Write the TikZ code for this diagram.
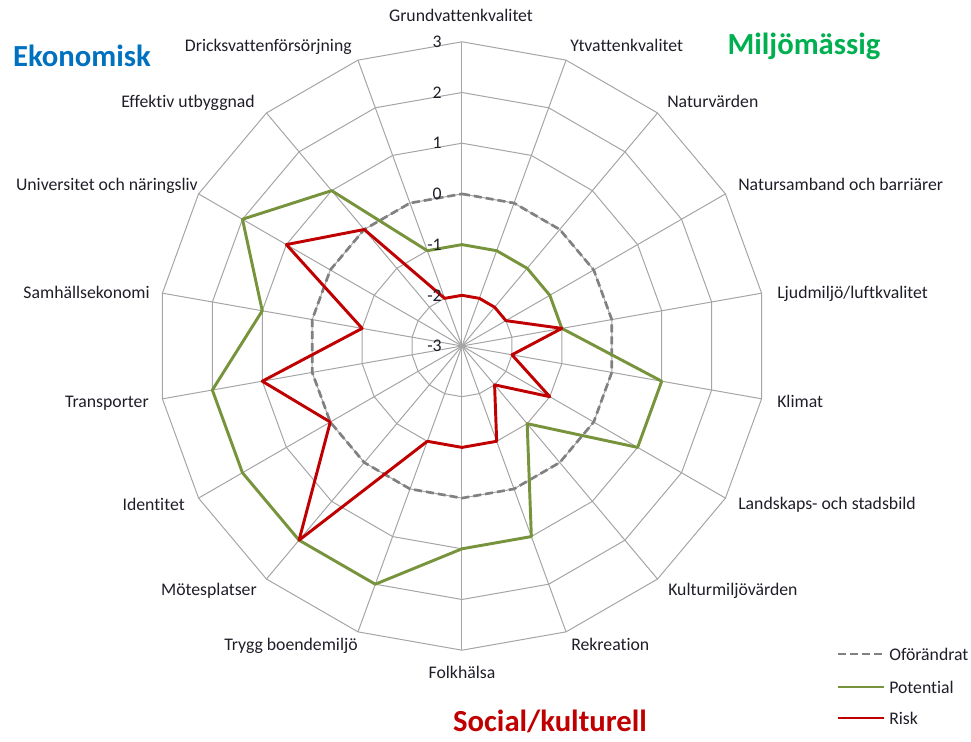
\documentclass[tikz,border=0pt]{standalone}
\usepackage{fontspec}
\setmainfont{Carlito}[Ligatures=NoCommon]
\usepackage{tikz}
\usetikzlibrary{positioning}

\definecolor{gridgray}{RGB}{165,165,165}
\definecolor{basegray}{RGB}{128,128,128}
\definecolor{potgreen}{RGB}{119,147,60}
\definecolor{riskred}{RGB}{192,0,0}
\definecolor{ekoblue}{RGB}{0,112,192}
\definecolor{miljogreen}{RGB}{0,176,80}
\definecolor{socred}{RGB}{192,0,0}
\definecolor{labelblack}{RGB}{30,30,40}

\tikzset{
	axislabel/.style={font=\fontsize{13.3}{15}\selectfont, text=labelblack, inner sep=0pt},
	ringlabel/.style={axislabel, anchor=east},
	heading/.style={font=\fontsize{23}{27}\selectfont\bfseries, inner sep=0pt, anchor=base},
	gridline/.style={draw=gridgray, line width=0.75pt},
	series/.style={line width=2.2pt, line join=round},
	basedash/.style={series, draw=basegray, line width=2pt, dash pattern=on 6pt off 3pt}
}

\begin{document}
\begin{tikzpicture}[x=0.75pt, y=0.75pt]
		\useasboundingbox (-462,-396) rectangle (509,346);
		
		% grid rings and spokes
		\foreach \r in {1,...,6}
			\draw[gridline] (90:\r*50.7) \foreach \k in {1,...,17} { -- ({90-\k*20}:\r*50.7) } -- cycle;
		\coordinate (c) at (0,0);
		\foreach \k in {0,...,17}
			\draw[gridline] (c) -- ({90-\k*20}:304.2);
		
		% series points
		\foreach \v [count=\k from 0] in {0,0,0,0,0,0,0,0,0,0,0,0,0,0,0,0,0,0}
			\coordinate (b\k) at ({90-\k*20}:{(\v+3)*50.7});
		\foreach \v [count=\k from 0] in {-1,-1,-1,-1,-1,1,1,-1,1,1,2,2,2,2,1,2,1,-1}
			\coordinate (g\k) at ({90-\k*20}:{(\v+3)*50.7});
		\foreach \v [count=\k from 0] in {-2,-2,-2,-2,-1,-2,-1,-2,-1,-1,-1,2,0,1,-1,1,0,-2}
			\coordinate (r\k) at ({90-\k*20}:{(\v+3)*50.7});
		
		\draw[basedash] (b0) \foreach \k in {1,...,17} { -- (b\k) } -- cycle;
		\draw[series, potgreen] (g0) \foreach \k in {1,...,17} { -- (g\k) } -- cycle;
		\draw[series, riskred] (r0) \foreach \k in {1,...,17} { -- (r\k) } -- cycle;
		
		% value axis
		\foreach \v [count=\i from 0] in {-3,...,3}
			\node[ringlabel] (tick\i) at (-20,\i*50.7) {\v};
		
		% axis labels
		\node[axislabel, anchor=base] (grund) at (-1,324) {Grundvattenkvalitet};
		\node[axislabel, anchor=base west] (ytv) at (108,294) {Ytvattenkvalitet};
		\node[axislabel, anchor=base west] (natur) at (205,238) {Naturvärden};
		\node[axislabel, anchor=base west] (nsamb) at (276,155) {Natursamband och barriärer};
		\node[axislabel, anchor=base west] (ljud) at (315,47) {Ljudmiljö/luftkvalitet};
		\node[axislabel, anchor=base west] (klimat) at (315,-61) {Klimat};
		\node[axislabel, anchor=base west] (landsk) at (276,-163) {Landskaps- och stadsbild};
		\node[axislabel, anchor=base west] (kultur) at (206,-249) {Kulturmiljövärden};
		\node[axislabel, anchor=base west] (rekr) at (109,-304) {Rekreation};
		\node[axislabel, anchor=base] (folk) at (0,-332) {Folkhälsa};
		\node[axislabel, anchor=base east] (trygg) at (-104,-304) {Trygg boendemiljö};
		\node[axislabel, anchor=base east] (mote) at (-205,-249) {Mötesplatser};
		\node[axislabel, anchor=base east] (ident) at (-277,-164) {Identitet};
		\node[axislabel, anchor=base east] (transp) at (-313,-61) {Transporter};
		\node[axislabel, anchor=base east] (samh) at (-312,47) {Samhällsekonomi};
		\node[axislabel, anchor=base east] (univ) at (-264,155) {Universitet och näringsliv};
		\node[axislabel, anchor=base east] (effekt) at (-207,238) {Effektiv utbyggnad};
		\node[axislabel, anchor=base east] (dricks) at (-110,294) {Dricksvattenförsörjning};
		
		% headings
		\node[heading, text=ekoblue] (eko) at (-380,279) {Ekonomisk};
		\node[heading, text=miljogreen] (miljo) at (342,291) {Miljömässig};
		\node[heading, text=socred] (social) at (88,-385) {Social/kulturell};
		
		% legend
		\node[axislabel, anchor=west] (legbase) at (427,-308) {Oförändrat};
		\node[axislabel, anchor=west] (legpot) at (427,-341) {Potential};
		\node[axislabel, anchor=west] (legrisk) at (427,-372) {Risk};
		\draw[basedash] ([xshift=-38.25pt]legbase.west) -- ([xshift=-3.75pt]legbase.west);
		\draw[series, potgreen] ([xshift=-38.25pt]legpot.west) -- ([xshift=-3.75pt]legpot.west);
		\draw[series, riskred] ([xshift=-38.25pt]legrisk.west) -- ([xshift=-3.75pt]legrisk.west);
\end{tikzpicture}
\end{document}
